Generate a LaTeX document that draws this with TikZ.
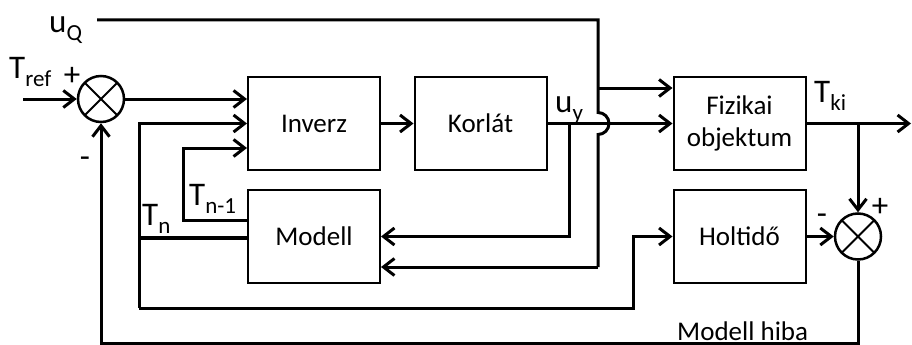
\documentclass[tikz,border=0pt]{standalone}
\usepackage{fontspec}
\setmainfont{Carlito}
\usetikzlibrary{arrows.meta,calc}

% label with a lowered subscript
\newcommand{\sigl}[2]{{\fontsize{33}{36}\selectfont #1}{\fontsize{23}{26}\selectfont\raisebox{-8pt}{#2}}}

\tikzset{
  blockbox/.style={draw, line width=2pt, minimum width=132pt, minimum height=93pt,
    inner sep=0pt, align=center, font=\fontsize{27}{32}\selectfont},
  sumnode/.style={draw, circle, line width=2.5pt, minimum size=46pt, inner sep=0pt,
    path picture={\draw[line width=2pt]
      (path picture bounding box.north west) -- (path picture bounding box.south east)
      (path picture bounding box.north east) -- (path picture bounding box.south west);}},
  wire/.style={line width=3pt},
  arr/.style={wire, -{Straight Barb[length=11pt,width=17pt]}},
  lbl/.style={inner sep=0pt, anchor=base west},
  signlbl/.style={inner sep=0pt, font=\fontsize{33}{36}\selectfont},
}

\begin{document}
\begin{tikzpicture}[x=1pt, y=-1pt]
\useasboundingbox (0,0) rectangle (912,345);

% blocks
\node[sumnode] (s1) at (101,99) {};
\node[blockbox] (inv) at (314,123.5) {Inverz};
\node[blockbox] (kor) at (480.5,123.5) {Korlát};
\node[blockbox] (fiz) at (739.5,123.5) {Fizikai\\objektum};
\node[blockbox] (mod) at (314,236.5) {Modell};
\node[blockbox] (hol) at (739.5,236.5) {Holtidő};
\node[sumnode] (s2) at (858,236.5) {};

% free ends and corners
\coordinate (tin) at (23,99);
\coordinate (uqs) at (97,20);
\coordinate (out) at (911,123.5);
\coordinate (tk) at (858,123.5);
\coordinate (uyb) at (569,123.5);
\coordinate (uqx) at (598,20);
\coordinate (jmp) at (598,123.5);
\coordinate (fbL) at (139,123.5);
\coordinate (fbB) at (139,308);
\coordinate (hB) at (633,308);
\coordinate (tnL) at (139,238);
\coordinate (tn1) at (183,220);
\coordinate (tn1t) at (183,148);
\coordinate (bot) at (101,343);

% main forward path
\draw[arr] (tin) -- (s1.west);
\draw[arr] (s1.east) -- (inv.west |- s1.east);
\draw[arr] (inv.east) -- (kor.west);
\draw[arr] (kor.east) -- (fiz.west);
\draw[arr] (fiz.east) -- (out);
\draw[arr] (tk) -- (s2.north);
\draw[arr] (hol.east) -- (s2.west);

% u_y to the model
\draw[arr] (uyb) |- (mod.east);

% disturbance u_Q with a jump over u_y
\draw[wire] (uqs) -- (uqx) -- ($(jmp)+(0,-11)$)
  arc[start angle=90, end angle=-90, radius=11pt] -- (598,267);
\draw[arr] (598,267) -- (mod.east |- 0,267);
\draw[arr] (598,88) -- (fiz.west |- 0,88);

% model outputs fed back to the inverse
\draw[arr] (fbB) -- (fbL) -- (inv.west |- fbL);
\draw[arr] (fbB) -- (hB) |- (hol.west);
\draw[line width=4pt] (tnL) -- (mod.west |- tnL);
\draw[arr] (mod.west |- tn1) -- (tn1) -- (tn1t) -- (inv.west |- tn1t);

% model error loop
\draw[arr] (s2.south) |- (bot) -- (s1.south);

% labels
\node[lbl] at (49,33) {\sigl{u}{Q}};
\node[lbl] at (9,78) {\sigl{T}{ref}};
\node[lbl] at (814,102) {\sigl{T}{ki}};
\node[lbl] at (555,112) {\sigl{u}{y}};
\node[lbl] at (142,225) {\sigl{T}{n}};
\node[lbl] at (189,205) {\sigl{T}{n-1}};
\node[signlbl] at (72,76) {+};
\node[signlbl] at (85,162) {-};
\node[signlbl] at (822,219) {-};
\node[signlbl] at (880,207) {+};
\node[lbl, font=\fontsize{27}{32}\selectfont] at (677,340) {Modell hiba};
\end{tikzpicture}
\end{document}
